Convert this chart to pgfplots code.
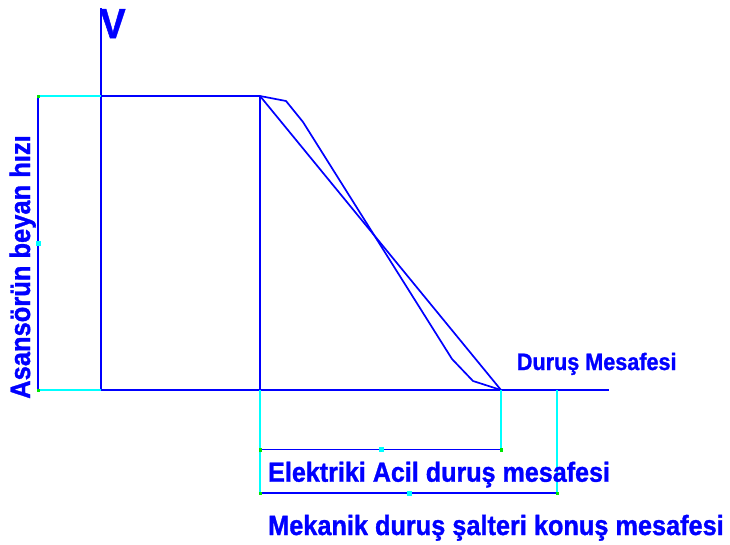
\documentclass[border=0pt]{standalone}
\usepackage{pgfplots}
\pgfplotsset{compat=1.18}
\usepackage{fontspec}
\setmainfont{Liberation Sans}
\newfontfamily\cadfont{Liberation Sans Bold}[FakeBold=1.2]

\definecolor{cadblue}{RGB}{0,0,255}
\definecolor{cadcyan}{RGB}{0,255,255}
\definecolor{cadgreen}{RGB}{0,230,0}

\begin{document}
\begin{tikzpicture}
  \begin{axis}[
    width=730pt, height=544pt,
    scale only axis,
    xmin=0, xmax=730,
    ymin=0, ymax=544,
    y dir=reverse,
    axis lines=none,
    clip=false,
    ]
    \path (rel axis cs:0,0) rectangle (rel axis cs:1,1);

    % blue outline lines
    \addplot[cadblue, line width=2pt] coordinates {(101,8) (101,390)};
    \addplot[cadblue, line width=2pt] coordinates {(101,96) (260,96)};
    \addplot[cadblue, line width=2pt] coordinates {(38,96) (38,390)};
    \addplot[cadblue, line width=2pt] coordinates {(101,390) (609,390)};
    \addplot[cadblue, line width=2pt] coordinates {(260,96) (260,390)};
    % ideal and real stopping curves
    \addplot[cadblue, line width=1.7pt] coordinates {(260,96) (501,390)};
    \addplot[cadblue, line width=1.7pt] coordinates {
      (260,96) (286,101) (303,122) (452,359) (473,381) (501,390)};
    % dimension lines
    \addplot[cadblue, line width=1.7pt] coordinates {(260,449.5) (501,449.5)};
    \addplot[cadblue, line width=1.7pt] coordinates {(260,493) (557,493)};

    % cyan extension lines
    \addplot[cadcyan, line width=1.5pt] coordinates {(38,96) (101,96)};
    \addplot[cadcyan, line width=1.5pt] coordinates {(38,390) (101,390)};
    \addplot[cadcyan, line width=1.5pt] coordinates {(260,390) (260,493)};
    \addplot[cadcyan, line width=1.5pt] coordinates {(501,390) (501,449.5)};
    \addplot[cadcyan, line width=1.5pt] coordinates {(557,390) (557,493)};

    % grip points
    \addplot[only marks, mark=square*, mark size=2pt, cadcyan] coordinates {
      (381,449.5) (409,493) (38,243)};
    \addplot[only marks, mark=square*, mark size=1.2pt, cadgreen] coordinates {
      (38,96) (38,390) (260,449.5) (501,449.5) (260,493) (557,493)};

    % labels
    \node[anchor=base west, inner sep=0, text=cadblue, yscale=1.1,
      font=\fontsize{38}{40}\selectfont\cadfont] at (axis cs:100,38) {V};
    \node[anchor=base, inner sep=0, text=cadblue, rotate=90, yscale=1.1,
      font=\fontsize{25.5}{28}\selectfont\cadfont] at (axis cs:30,267)
      {Asansörün beyan hızı};
    \node[anchor=base west, inner sep=0, text=cadblue, yscale=1.1,
      font=\fontsize{21.6}{24}\selectfont\cadfont] at (axis cs:516.7,370)
      {Duruş Mesafesi};
    \node[anchor=base west, inner sep=0, text=cadblue, yscale=1.1,
      font=\fontsize{25.1}{28}\selectfont\cadfont] at (axis cs:268,481.7)
      {Elektriki Acil duruş mesafesi};
    \node[anchor=base west, inner sep=0, text=cadblue, yscale=1.1,
      font=\fontsize{25.3}{28}\selectfont\cadfont] at (axis cs:268,535)
      {Mekanik duruş şalteri konuş mesafesi};
  \end{axis}
\end{tikzpicture}
\end{document}
